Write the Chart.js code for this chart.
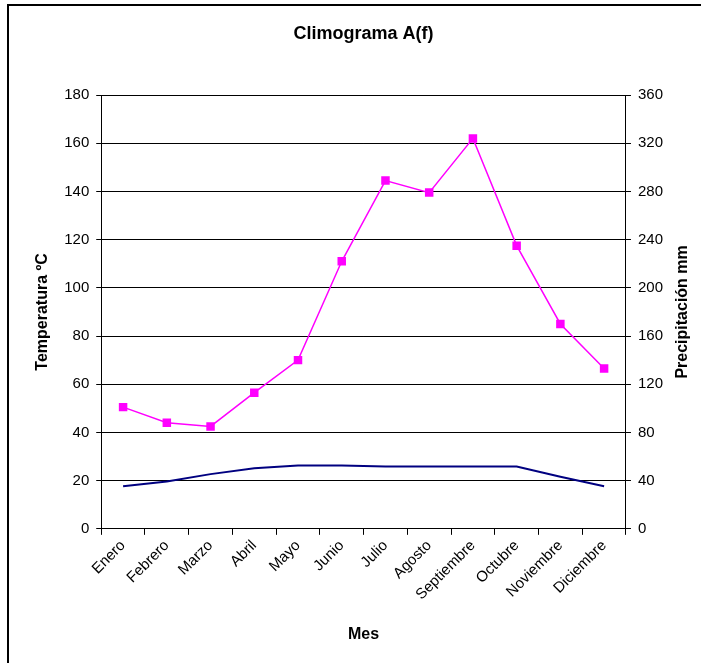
<!DOCTYPE html>
<html>
<head>
<meta charset="utf-8">
<script src="https://cdn.jsdelivr.net/npm/chart.js@4/dist/chart.umd.min.js"></script>
<style>
  html, body { margin: 0; padding: 0; background: #fff; }
  canvas { display: block; }
</style>
</head>
<body>
<canvas id="c" width="701" height="663"></canvas>
<script>
// Meses del año
const meses = ['Enero', 'Febrero', 'Marzo', 'Abril', 'Mayo', 'Junio', 'Julio',
  'Agosto', 'Septiembre', 'Octubre', 'Noviembre', 'Diciembre'];
// Temperatura media mensual (ºC) – eje izquierdo
const temperatura = [17.7, 19.6, 22.7, 25.1, 26.3, 26.3, 25.9, 25.9, 25.9, 25.9, 21.6, 17.7];
// Precipitación mensual (mm) – eje derecho
const precipitacion = [101, 88, 85, 113, 140, 222, 289, 279, 324, 235, 170, 133];
// Rangos de los ejes
const tempMax = 180, tempStep = 20;
const precMax = 360, precStep = 40;

const FONT = 'Liberation Sans, Arial, sans-serif';
const TITULO = 'Climograma A(f)';
const TITULO_DERECHO = 'Precipitación mm';

// Marco, título centrado sobre el área de trazado y título del eje derecho
const decorPlugin = {
  id: 'decor',
  afterDraw(chart) {
    const ctx = chart.ctx;
    const a = chart.chartArea;
    ctx.save();
    ctx.strokeStyle = '#000';
    ctx.lineWidth = 2;
    ctx.beginPath();
    ctx.moveTo(8, 663);
    ctx.lineTo(8, 5);
    ctx.lineTo(701, 5);
    ctx.stroke();

    ctx.fillStyle = '#000';
    ctx.textAlign = 'center';
    ctx.textBaseline = 'middle';
    ctx.font = 'bold 18px ' + FONT;
    ctx.fillText(TITULO, (a.left + a.right) / 2, 34);

    ctx.translate(683, (a.top + a.bottom) / 2);
    ctx.rotate(-Math.PI / 2);
    ctx.font = 'bold 16px ' + FONT;
    ctx.fillText(TITULO_DERECHO, 0, 0);
    ctx.restore();
  }
};

new Chart(document.getElementById('c'), {
  type: 'line',
  data: {
    labels: meses,
    datasets: [
      {
        label: 'Precipitación',
        data: precipitacion,
        yAxisID: 'y1',
        borderColor: '#FF00FF',
        backgroundColor: '#FF00FF',
        borderWidth: 1.5,
        pointStyle: 'rect',
        pointRadius: 6,
        pointHoverRadius: 6,
        pointBorderWidth: 0,
        tension: 0
      },
      {
        label: 'Temperatura',
        data: temperatura,
        yAxisID: 'y',
        borderColor: '#000080',
        backgroundColor: '#000080',
        borderWidth: 2,
        pointRadius: 0,
        tension: 0
      }
    ]
  },
  options: {
    responsive: false,
    animation: false,
    layout: { padding: { left: 21, right: 31, top: 95, bottom: 19 } },
    plugins: {
      legend: { display: false },
      tooltip: { enabled: false },
      title: { display: false }
    },
    scales: {
      x: {
        offset: true,
        grid: {
          display: true,
          offset: true,
          drawOnChartArea: false,
          drawTicks: true,
          tickLength: 6,
          color: '#000'
        },
        border: { display: true, color: '#000', width: 1 },
        ticks: {
          color: '#000',
          font: { family: FONT, size: 15 },
          maxRotation: 45,
          minRotation: 45,
          padding: 2,
          autoSkip: false
        },
        title: {
          display: true,
          text: 'Mes',
          color: '#000',
          font: { family: FONT, size: 16, weight: 'bold' },
          padding: { top: 19, bottom: 0 }
        }
      },
      y: {
        position: 'left',
        min: 0,
        max: tempMax,
        grid: {
          color: '#000',
          lineWidth: 1,
          drawTicks: true,
          tickLength: 5
        },
        border: { display: true, color: '#000', width: 1 },
        ticks: {
          stepSize: tempStep,
          color: '#000',
          font: { family: FONT, size: 15 },
          padding: 7
        },
        title: {
          display: true,
          text: 'Temperatura ºC',
          color: '#000',
          font: { family: FONT, size: 16, weight: 'bold' },
          padding: { top: 12, bottom: 5 }
        }
      },
      y1: {
        position: 'right',
        min: 0,
        max: precMax,
        grid: {
          drawOnChartArea: false,
          color: '#000',
          drawTicks: true,
          tickLength: 5
        },
        border: { display: true, color: '#000', width: 1 },
        ticks: {
          stepSize: precStep,
          color: '#000',
          font: { family: FONT, size: 15 },
          padding: 7
        }
      }
    }
  },
  plugins: [decorPlugin]
});
</script>
</body>
</html>
